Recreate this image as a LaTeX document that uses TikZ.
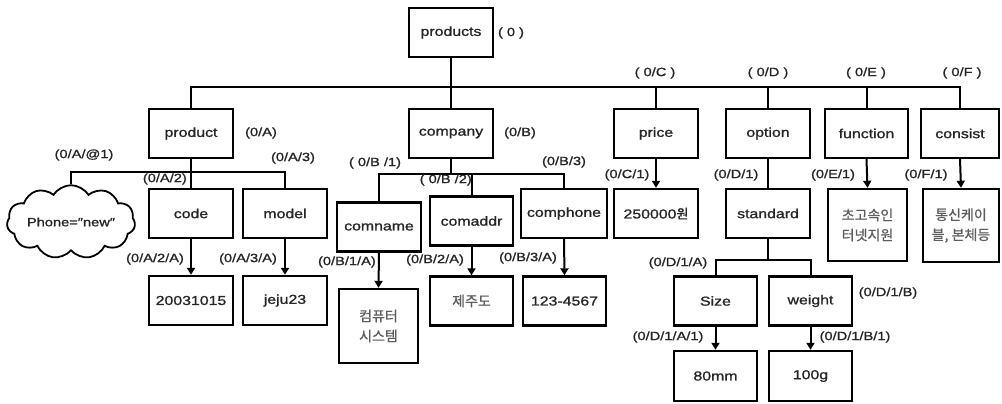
\documentclass[tikz,border=0pt]{standalone}
\usepackage{fontspec}
\setmainfont[FakeStretch=1.22,FakeBold=1.2]{Liberation Sans}
\newfontfamily\kr[FakeBold=0.8]{Noto Sans CJK KR}
\usetikzlibrary{arrows.meta,shapes.symbols}
\definecolor{krgray}{HTML}{5E5E5E}
\tikzset{
  box/.style={draw, line width=2.4pt, inner sep=0pt, minimum width=84pt, minimum height=49pt,
    font=\fontsize{13}{14}\selectfont, text=black!85, align=center},
  krbox/.style={box, font=\kr\fontsize{14}{20}\selectfont, text=krgray},
  lbl/.style={font=\fontsize{12}{13}\selectfont, inner sep=0pt, text=black!85},
  conn/.style={line width=2pt},
  arr/.style={conn, -{Triangle[length=7pt,width=8pt]}},
}
\begin{document}
\begin{tikzpicture}[x=1pt,y=-1pt]
\useasboundingbox (0,0) rectangle (1002,404);
% level 0
\node[box, minimum width=84pt] (products) at (451,32.5) {products};
% level 1
\node[box] (product) at (191,133.5) {product};
\node[box] (company) at (451,133.5) {company};
\node[box] (price) at (656,133.5) {price};
\node[box] (option) at (768,133.5) {option};
\node[box, minimum width=83pt] (function) at (866.5,133.5) {function};
\node[box, minimum width=78pt] (consist) at (960,133.5) {consist};
% level 2
\node[draw, cloud, cloud puffs=11, cloud puff arc=115, aspect=2.2, line width=1.8pt,
  minimum width=126pt, minimum height=56pt, inner sep=0pt,
  font=\fontsize{12}{13}\selectfont, text=black!85] (cloud) at (71,222) {Phone=\char"2033new\char"2033};
\node[box] (code) at (191,213.5) {code};
\node[box] (model) at (285,213.5) {model};
\node[box] (comname) at (379,227) {comname};
\node[box, minimum width=83pt] (comaddr) at (471.5,221) {comaddr};
\node[box, minimum width=86pt] (comphone) at (564,213.5) {comphone};
\node[box] (c250) at (656,213.5) {250000{\kr 원}};
\node[box] (standard) at (768,213.5) {standard};
\node[krbox, minimum width=79pt, minimum height=72pt] (speed) at (867.5,225) {초고속인\\터넷지원};
\node[krbox, minimum width=76pt, minimum height=73pt] (cable) at (961,225.5) {통신케이\\블, 본체등};
% level 3
\node[box] (date) at (191,300.5) {20031015};
\node[box] (jeju23) at (285,300.5) {jeju23};
\node[krbox, minimum width=79pt, minimum height=74pt] (computer) at (378.5,326) {컴퓨터\\시스템};
\node[krbox, minimum width=83pt] (jejudo) at (471.5,301) {제주도};
\node[box, minimum width=83pt] (phone) at (564.5,301) {123-4567};
\node[box, minimum width=83pt] (size) at (715.5,301) {Size};
\node[box, minimum width=83pt] (weight) at (810.5,301) {weight};
% level 4
\node[box, minimum width=83pt, minimum height=50pt] (mm80) at (715.5,376) {80mm};
\node[box, minimum width=83pt, minimum height=50pt] (g100) at (810.5,376) {100g};

% bus coordinates
\coordinate (mainbus) at (0,87);
\coordinate (pbus) at (0,172);
\coordinate (cbus) at (0,174);
\coordinate (sbus) at (0,260);

% main tree
\draw[conn] (products.south) -- (company.north);
\draw[conn] (product.north) |- (consist.north |- mainbus) -- (consist.north);
\draw[conn] (price.north) -- (price.north |- mainbus);
\draw[conn] (option.north) -- (option.north |- mainbus);
\draw[conn] (function.north) -- (function.north |- mainbus);
% product subtree
\draw[conn] (product.south) -- (code.north);
\draw[conn] (cloud.north) |- (model.north |- pbus) -- (model.north);
\draw[arr] (code.south) -- (date.north);
\draw[arr] (model.south) -- (jeju23.north);
% company subtree
\draw[conn] (company.south) -- (company.south |- cbus);
\draw[conn] (comname.north) |- (comphone.north |- cbus) -- (comphone.north);
\draw[conn] (comaddr.north) -- (comaddr.north |- cbus);
\draw[arr] (comname.south) -- (computer.north);
\draw[arr] (comaddr.south) -- (jejudo.north);
\draw[arr] (comphone.south) -- (phone.north);
% others
\draw[arr] (price.south) -- (c250.north);
\draw[conn] (option.south) -- (standard.north);
\draw[arr] (function.south) -- (speed.north);
\draw[arr] (consist.south) -- (cable.north);
\draw[conn] (standard.south) -- (standard.south |- sbus);
\draw[conn] (size.north) |- (weight.north |- sbus) -- (weight.north);
\draw[arr] (size.south) -- (mm80.north);
\draw[arr] (weight.south) -- (g100.north);

% labels
\node[lbl] (l0) at (511,33) {( 0 )};
\node[lbl] (lA) at (261,133) {(0/A)};
\node[lbl] (lB) at (520,133) {(0/B)};
\node[lbl] (lC) at (655,73) {( 0/C )};
\node[lbl] (lD) at (768,73) {( 0/D )};
\node[lbl] (lE) at (866,73) {( 0/E )};
\node[lbl] (lF) at (962,73) {( 0/F )};
\node[lbl] (lA1) at (84,155) {(0/A/@1)};
\node[lbl, anchor=east] (lA2) at (187,179) {(0/A/2)};
\node[lbl] (lA3) at (293,158) {(0/A/3)};
\node[lbl] (lA2A) at (155,259) {(0/A/2/A)};
\node[lbl] (lA3A) at (248,259) {(0/A/3/A)};
\node[lbl] (lB1) at (375,163) {( 0/B /1)};
\node[lbl, anchor=east] (lB2) at (472,180) {( 0/B /2)};
\node[lbl] (lB3) at (564,162) {(0/B/3)};
\node[lbl, anchor=east] (lB1A) at (376,262) {(0/B/1/A)};
\node[lbl] (lB2A) at (435,260) {(0/B/2/A)};
\node[lbl] (lB3A) at (528,258) {(0/B/3/A)};
\node[lbl] (lC1) at (627,175) {(0/C/1)};
\node[lbl] (lD1) at (736,175) {(0/D/1)};
\node[lbl] (lE1) at (833,175) {(0/E/1)};
\node[lbl] (lF1) at (926,175) {(0/F/1)};
\node[lbl] (lD1A) at (678,263) {(0/D/1/A)};
\node[lbl] (lD1B) at (888,293) {(0/D/1/B)};
\node[lbl] (lD1A1) at (668,337) {(0/D/1/A/1)};
\node[lbl] (lD1B1) at (855,337) {(0/D/1/B/1)};
\end{tikzpicture}
\end{document}
